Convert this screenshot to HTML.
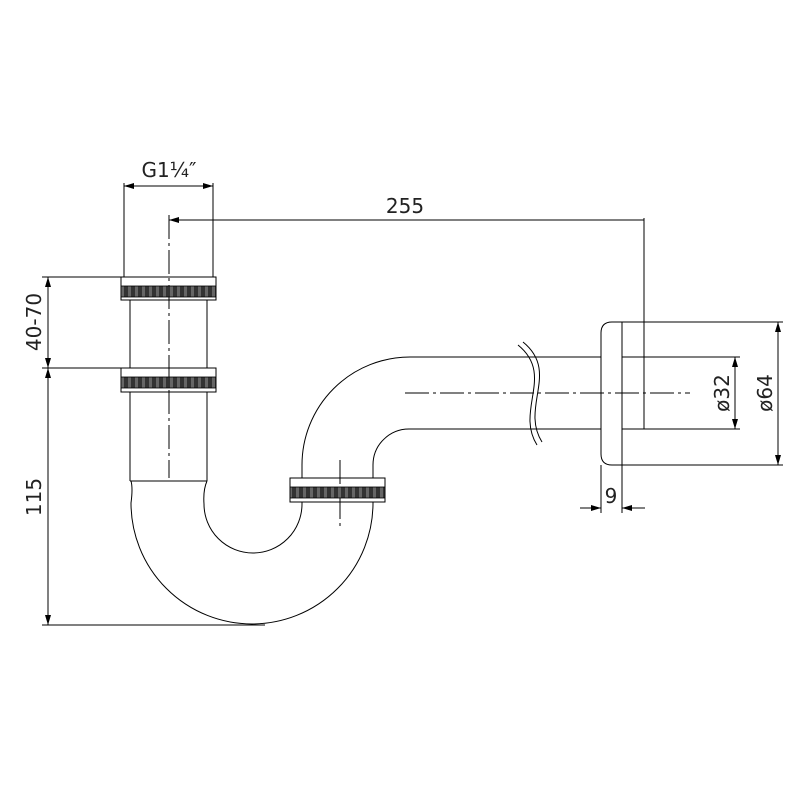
<!DOCTYPE html>
<html><head><style>html,body{margin:0;padding:0;background:#fff}</style></head><body>
<svg width="800" height="800" viewBox="0 0 800 800" xmlns="http://www.w3.org/2000/svg" font-family="'DejaVu Sans','Liberation Sans',sans-serif">
<defs>
<marker id="a" viewBox="0 0 10 6" refX="10" refY="3" markerWidth="10" markerHeight="6" orient="auto-start-reverse" markerUnits="userSpaceOnUse"><path d="M0,0 L10,3 L0,6 z" fill="#000"/></marker>
<pattern id="k" width="7" height="10" patternUnits="userSpaceOnUse"><rect width="7" height="10" fill="#333"/><rect x="2" width="3" height="10" fill="#666"/></pattern>
</defs>
<g fill="none" stroke="#000" stroke-width="1">
<line x1="124" y1="183" x2="124" y2="277"/>
<line x1="213" y1="183" x2="213" y2="277"/>
<rect x="121" y="277" width="95" height="23" fill="#fff"/>
<line x1="130" y1="300" x2="130" y2="368"/><line x1="207" y1="300" x2="207" y2="368"/>
<rect x="121" y="368" width="95" height="24" fill="#fff"/>
<line x1="130" y1="392" x2="130" y2="481"/><line x1="207" y1="392" x2="207" y2="481"/>
<line x1="130" y1="481" x2="207" y2="481"/>
<path d="M131,481 Q133,488 131,503 A121,121 0 0 0 373,503 L373,465"/>
<path d="M207,481 Q203,490 204,504 A49,49 0 0 0 302,504 L302,465"/>
<path d="M302,478 L302,465 A108,108 0 0 1 410,357 L601,357"/>
<path d="M373,478 L373,465 A36,36 0 0 1 409,429 L601,429"/>
<rect x="290" y="478" width="95" height="24" fill="#fff"/>
<path d="M518,345 C555,375 515,410 537,445"/>
<path d="M523,342 C560,372 520,407 542,442"/>
<path d="M622,322 L612,322 Q601,322 601,333 L601,454 Q601,465 612,465 L622,465 Z" fill="#fff"/>
<line x1="622" y1="322" x2="783" y2="322"/>
<line x1="622" y1="465" x2="783" y2="465"/>
<line x1="622" y1="357" x2="740" y2="357"/>
<line x1="622" y1="429" x2="740" y2="429"/>
<line x1="644" y1="218" x2="644" y2="429"/>
<g stroke-dasharray="24,4,3,4">
<line x1="169" y1="215" x2="169" y2="478"/>
<line x1="340" y1="460" x2="340" y2="528"/>
<line x1="405" y1="393" x2="690" y2="393"/>
</g>
<line x1="124" y1="186" x2="213" y2="186" marker-start="url(#a)" marker-end="url(#a)"/>
<line x1="644" y1="220" x2="169" y2="220" marker-end="url(#a)"/>
<line x1="42" y1="277" x2="121" y2="277"/>
<line x1="42" y1="368" x2="121" y2="368"/>
<line x1="42" y1="625" x2="265" y2="625"/>
<line x1="48" y1="277" x2="48" y2="368" marker-start="url(#a)" marker-end="url(#a)"/>
<line x1="48" y1="368" x2="48" y2="625" marker-start="url(#a)" marker-end="url(#a)"/>
<line x1="735" y1="357" x2="735" y2="429" marker-start="url(#a)" marker-end="url(#a)"/>
<line x1="778" y1="322" x2="778" y2="465" marker-start="url(#a)" marker-end="url(#a)"/>
<line x1="601" y1="465" x2="601" y2="513"/>
<line x1="622" y1="465" x2="622" y2="513"/>
<line x1="580" y1="508" x2="601" y2="508" marker-end="url(#a)"/>
<line x1="645" y1="508" x2="622" y2="508" marker-end="url(#a)"/>
</g>
<rect x="121" y="286" width="95" height="11" fill="url(#k)" stroke="#000" stroke-width="0.8"/>
<rect x="121" y="377" width="95" height="11" fill="url(#k)" stroke="#000" stroke-width="0.8"/>
<rect x="290" y="487" width="95" height="11" fill="url(#k)" stroke="#000" stroke-width="0.8"/>
<g font-size="20" fill="#222">
<text x="169" y="177" text-anchor="middle">G1¼″</text>
<text x="405" y="213" text-anchor="middle">255</text>
<text x="611" y="503" text-anchor="middle">9</text>
<text transform="translate(41,322) rotate(-90)" text-anchor="middle">40-70</text>
<text transform="translate(41,497) rotate(-90)" text-anchor="middle">115</text>
<text transform="translate(729,393) rotate(-90)" text-anchor="middle">ø32</text>
<text transform="translate(772,393) rotate(-90)" text-anchor="middle">ø64</text>
</g>
</svg>
</body></html>
